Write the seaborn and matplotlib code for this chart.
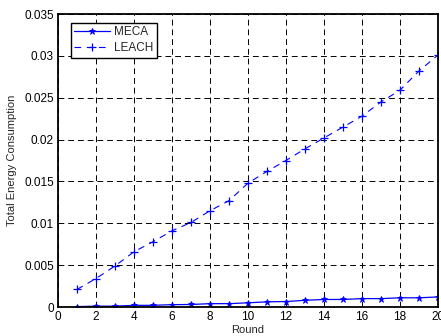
import matplotlib
matplotlib.use("Agg")
import matplotlib.pyplot as plt
import seaborn as sns
import pandas as pd
from matplotlib.ticker import FuncFormatter

rounds = list(range(1, 21))
meca = [0.00005, 0.0001, 0.0001, 0.0002, 0.0002, 0.00028, 0.0003, 0.0004, 0.0004, 0.0005,
        0.00062, 0.00065, 0.0008, 0.0009, 0.0009, 0.001, 0.001, 0.0011, 0.0011, 0.0012]
leach = [0.0021, 0.0034, 0.0049, 0.0066, 0.0078, 0.0091, 0.0101, 0.0115, 0.0127, 0.0148,
         0.0162, 0.0175, 0.0189, 0.0202, 0.0215, 0.0228, 0.0245, 0.0259, 0.0282, 0.0301]
xticks = list(range(0, 21, 2))
yticks = [0, 0.005, 0.01, 0.015, 0.02, 0.025, 0.03, 0.035]

df_meca = pd.DataFrame({"Round": rounds, "Energy": meca})
df_leach = pd.DataFrame({"Round": rounds, "Energy": leach})

sns.set_style("white")
plt.rcParams["font.family"] = ["Liberation Sans", "DejaVu Sans"]
plt.rcParams["font.size"] = 8.5

fig = plt.figure(figsize=(4.41, 3.36), dpi=100)
ax = fig.add_axes([0.1315, 0.0863, 0.8615, 0.8717])

blue = "#0000ff"
sns.lineplot(data=df_meca, x="Round", y="Energy", color=blue, marker="*",
             markersize=5, linewidth=0.9, markeredgewidth=0.6,
             markeredgecolor=blue, markerfacecolor=blue, label="MECA", ax=ax)
sns.lineplot(data=df_leach, x="Round", y="Energy", color=blue, marker="+",
             linestyle=(0, (6, 5)), markersize=6, linewidth=0.8, markeredgewidth=0.9,
             markeredgecolor=blue, label="LEACH", ax=ax)

ax.set_xlim(0, 20)
ax.set_ylim(0, 0.035)
ax.set_xticks(xticks)
ax.set_yticks(yticks)
ax.yaxis.set_major_formatter(FuncFormatter(lambda v, p: "%g" % v))
ax.grid(True, color="black", linestyle=(0, (6, 4)), linewidth=0.7)
ax.set_axisbelow(True)
ax.tick_params(direction="in", length=3, width=0.7, colors="black", labelsize=8.5, pad=3)
for s in ax.spines.values():
    s.set_color("black")
    s.set_linewidth(1.3)
ax.set_xlabel("Round", fontsize=8, labelpad=1)
ax.set_ylabel("Total Energy Consumption", fontsize=8, labelpad=5)

leg = ax.legend(loc="upper left", fontsize=8.5, frameon=True, fancybox=False,
                edgecolor="black", framealpha=1, handlelength=3.0,
                borderpad=0.3, labelspacing=0.35, borderaxespad=0.6, handletextpad=0.4,
                bbox_to_anchor=(0.015, 0.995))
leg.get_frame().set_linewidth(1.0)

fig.savefig("out.png", dpi=100)
